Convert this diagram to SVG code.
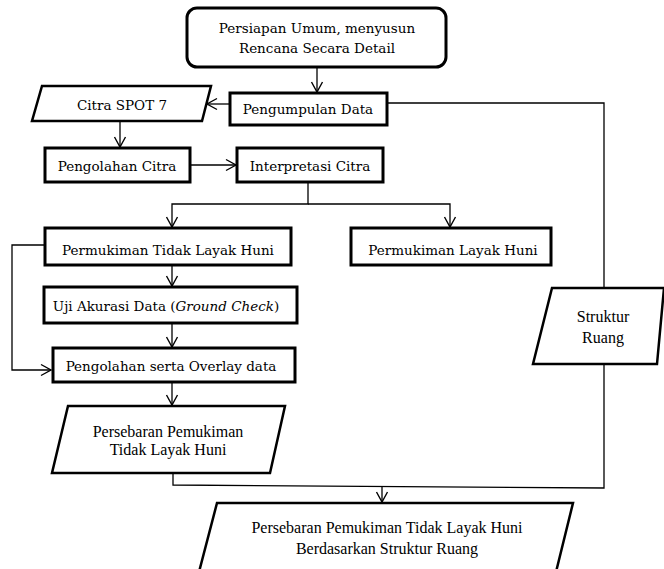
<svg xmlns="http://www.w3.org/2000/svg" width="664" height="569" viewBox="0 0 664 569">
<style>
.box{fill:#fff;stroke:#000;stroke-width:3}
.para{fill:#fff;stroke:#000;stroke-width:2.5;stroke-linejoin:miter}
.c{fill:none;stroke:#000;stroke-width:1.3}
.t{font-family:"DejaVu Serif","Liberation Serif",serif;font-size:13.5px;fill:#000;text-anchor:middle}
.tr{font-family:"Liberation Serif","Times New Roman",serif;font-size:16px;fill:#000;text-anchor:middle}
</style>
<defs>
<marker id="arr" markerUnits="userSpaceOnUse" markerWidth="14" markerHeight="14" refX="11" refY="6" orient="auto" viewBox="0 0 14 12">
<path d="M1,0.5 L11,6 L1,11.5" fill="none" stroke="#000" stroke-width="1.4"/>
</marker>
</defs>
<rect width="664" height="569" fill="#fff"/>
<g id="connectors">
<path class="c" d="M317,67 V92" marker-end="url(#arr)"/>
<path class="c" d="M230,104 H207" marker-end="url(#arr)"/>
<path class="c" d="M120,121 V147" marker-end="url(#arr)"/>
<path class="c" d="M190,165 H236" marker-end="url(#arr)"/>
<path class="c" d="M308,182 V204 H172 V227" marker-end="url(#arr)"/>
<path class="c" d="M308,204 H450 V227" marker-end="url(#arr)"/>
<path class="c" d="M172,265 V286" marker-end="url(#arr)"/>
<path class="c" d="M172,323 V347" marker-end="url(#arr)"/>
<path class="c" d="M45,245 H12 V370 H51" marker-end="url(#arr)"/>
<path class="c" d="M172,382 V405" marker-end="url(#arr)"/>
<path class="c" d="M387,103 H604 V288"/>
<path class="c" d="M604,364 V488 L173,485 V473"/>
<path class="c" d="M382,486.5 V502" marker-end="url(#arr)"/>
</g>
<g id="n-persiapan">
<rect class="box" x="187" y="8" width="259" height="59" rx="10" ry="10"/>
<text class="t" x="317" y="33">Persiapan Umum, menyusun</text>
<text class="t" x="317" y="53">Rencana Secara Detail</text>
</g>
<g id="n-pengumpulan">
<rect class="box" x="230" y="93" width="157" height="32"/>
<text class="t" x="308" y="114">Pengumpulan Data</text>
</g>
<g id="n-citra-spot">
<polygon class="para" points="42,86 211,86 202,121 32,121"/>
<text class="t" x="122" y="110">Citra SPOT 7</text>
</g>
<g id="n-pengolahan-citra">
<rect class="box" x="45" y="148" width="145" height="34"/>
<text class="t" x="117" y="171">Pengolahan Citra</text>
</g>
<g id="n-interpretasi">
<rect class="box" x="237" y="148" width="146" height="34"/>
<text class="t" x="310" y="171">Interpretasi Citra</text>
</g>
<g id="n-tidak-layak">
<rect class="box" x="45" y="228" width="246" height="37"/>
<text class="t" x="168" y="255">Permukiman Tidak Layak Huni</text>
</g>
<g id="n-layak">
<rect class="box" x="351" y="228" width="200" height="37"/>
<text class="t" x="453" y="255">Permukiman Layak Huni</text>
</g>
<g id="n-uji">
<rect class="box" x="44" y="287" width="253" height="36"/>
<text class="t" x="166" y="311">Uji Akurasi Data (<tspan font-style="italic">Ground Check</tspan>)</text>
</g>
<g id="n-overlay">
<rect class="box" x="53" y="348" width="242" height="34"/>
<text class="t" x="171" y="371">Pengolahan serta Overlay data</text>
</g>
<g id="n-persebaran">
<polygon class="para" points="68,406 285,406 270,473 52,473"/>
<text class="tr" x="168" y="437">Persebaran Pemukiman</text>
<text class="tr" x="168" y="455">Tidak Layak Huni</text>
</g>
<g id="n-struktur">
<polygon class="para" points="552,288 664,288 657,364 533,364"/>
<text class="tr" x="603" y="322">Struktur</text>
<text class="tr" x="603" y="343">Ruang</text>
</g>
<g id="n-final">
<polygon class="para" points="217,503 573,503 556,572 199,572"/>
<text class="tr" x="387" y="533">Persebaran Pemukiman Tidak Layak Huni</text>
<text class="tr" x="387" y="554">Berdasarkan Struktur Ruang</text>
</g>
</svg>
